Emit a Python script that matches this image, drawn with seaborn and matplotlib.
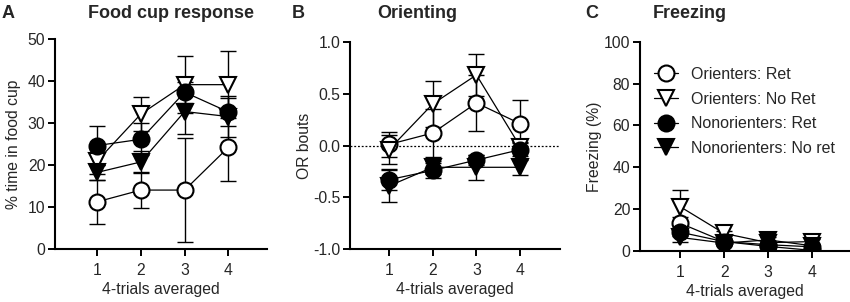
import numpy as np
import pandas as pd
import matplotlib
matplotlib.use("Agg")
import matplotlib.pyplot as plt
import seaborn as sns
from matplotlib.lines import Line2D

sns.set_style("ticks")
plt.rcParams['font.family'] = ['Liberation Sans', 'DejaVu Sans']

trials = [1, 2, 3, 4]
series_names = ["Orienters: Ret", "Orienters: No Ret", "Nonorienters: Ret", "Nonorienters: No ret"]

# Panel A: Food cup response (% time in food cup)
food_or_ret = [11.3, 14.1, 14.1, 24.3]
food_or_ret_err = [5.3, 4.3, 12.3, 8.0]
food_or_noret = [21.0, 32.2, 39.2, 39.2]
food_or_noret_err = [3.0, 4.0, 6.8, 7.9]
food_non_ret = [24.7, 26.2, 37.4, 32.7]
food_non_ret_err = [4.7, 3.8, 2.5, 3.4]
food_non_noret = [18.3, 20.8, 32.8, 31.6]
food_non_noret_err = [1.8, 2.6, 5.4, 4.9]

# Panel B: Orienting (OR bouts)
or_or_ret = [0.01, 0.12, 0.41, 0.21]
or_or_ret_err = [0.12, 0.23, 0.27, 0.23]
or_or_noret = [-0.04, 0.40, 0.68, -0.01]
or_or_noret_err = [0.14, 0.22, 0.20, 0.04]
or_non_ret = [-0.33, -0.24, -0.14, -0.04]
or_non_ret_err = [0.10, 0.07, 0.05, 0.06]
or_non_noret = [-0.39, -0.21, -0.21, -0.21]
or_non_noret_err = [0.15, 0.06, 0.12, 0.07]

# Panel C: Freezing (%)
frz_or_ret = [13.3, 4.5, 2.2, 0.3]
frz_or_ret_err = [3.0, 1.0, 0.8, 0.5]
frz_or_noret = [21.2, 8.4, 4.0, 4.5]
frz_or_noret_err = [8.0, 1.0, 1.0, 1.0]
frz_non_ret = [9.0, 4.5, 3.0, 2.0]
frz_non_ret_err = [2.0, 1.0, 1.0, 1.0]
frz_non_noret = [6.5, 3.8, 5.3, 2.5]
frz_non_noret_err = [2.0, 1.0, 1.5, 1.0]

styles = [
    dict(marker='o', markerfacecolor='white'),
    dict(marker='v', markerfacecolor='white'),
    dict(marker='o', markerfacecolor='black'),
    dict(marker='v', markerfacecolor='black'),
]
MS = {'o': 11.5, 'v': 12}
FS = 11.3

fig = plt.figure(figsize=(8.5, 3.02), dpi=100)
axA = fig.add_axes([55/850, (302-249.3)/302, 212/850, 210/302])
axB = fig.add_axes([350/850, (302-249.3)/302, 210/850, 207.6/302])
axC = fig.add_axes([640/850, (302-251)/302, 210/850, 209.3/302])

panels = [
    (axA, [food_or_ret, food_or_noret, food_non_ret, food_non_noret],
     [food_or_ret_err, food_or_noret_err, food_non_ret_err, food_non_noret_err],
     (0, 50), [0, 10, 20, 30, 40, 50], ["0", "10", "20", "30", "40", "50"], "% time in food cup", (0.04, 4.88), 5),
    (axB, [or_or_ret, or_or_noret, or_non_ret, or_non_noret],
     [or_or_ret_err, or_or_noret_err, or_non_ret_err, or_non_noret_err],
     (-1.0, 1.0), [-1.0, -0.5, 0.0, 0.5, 1.0], ["-1.0", "-0.5", "0.0", "0.5", "1.0"], "OR bouts", (0.11, 4.91), 1),
    (axC, [frz_or_ret, frz_or_noret, frz_non_ret, frz_non_noret],
     [frz_or_ret_err, frz_or_noret_err, frz_non_ret_err, frz_non_noret_err],
     (0, 100), [0, 20, 40, 60, 80, 100], ["0", "20", "40", "60", "80", "100"], "Freezing (%)", (0.09, 4.86), 1),
]

for ax, vals, errs, ylim, yt, ytl, ylab, xlim, ylpad in panels:
    if ax is axB:
        ax.axhline(0, color='k', linestyle=(0, (1.5, 1.5)), linewidth=0.9, zorder=1)
    for v, e, st, name in zip(vals, errs, styles, series_names):
        ax.errorbar(trials, v, yerr=e, fmt='none', ecolor='k', elinewidth=1.0,
                    capsize=6, capthick=1.0, zorder=2)
        df = pd.DataFrame({"trial": trials, "value": v})
        sns.lineplot(data=df, x="trial", y="value", ax=ax, color='k', linewidth=0.9,
                     marker=st['marker'], markersize=MS[st['marker']],
                     markerfacecolor=st['markerfacecolor'], markeredgecolor='k',
                     markeredgewidth=1.5, label=name, zorder=3, legend=False)
    ax.set_ylim(*ylim)
    ax.set_yticks(yt)
    ax.set_yticklabels(ytl)
    ax.set_xlim(*xlim)
    ax.set_xticks(trials)
    ax.set_xticklabels([str(t) for t in trials])
    ax.tick_params(axis='both', labelsize=FS, width=1.4, length=5, direction='out', color='k')
    ax.tick_params(axis='x', pad=5)
    ax.tick_params(axis='y', pad=2)
    ax.set_xlabel("4-trials averaged", fontsize=FS, labelpad=3)
    ax.set_ylabel(ylab, fontsize=FS, labelpad=ylpad)
    for s in ['left', 'bottom']:
        ax.spines[s].set_linewidth(1.5)
        ax.spines[s].set_color('k')
    sns.despine(ax=ax)

# legend in panel C
handles = [Line2D([0], [0], color='k', linewidth=0.9, marker=st['marker'],
                  markersize=MS[st['marker']],
                  markerfacecolor=st['markerfacecolor'], markeredgecolor='k', markeredgewidth=1.5)
           for st in styles]
axC.legend(handles, series_names, loc='upper left', bbox_to_anchor=(654/850, 1 - 67/302),
           bbox_transform=fig.transFigure, frameon=False, fontsize=11.5, handlelength=1.5,
           handletextpad=0.8, labelspacing=0.6, borderpad=0, borderaxespad=0)

# titles and panel letters
TS = 13
fig.text(88/850, 1 - 14/302, "Food cup response", fontsize=TS, fontweight='bold', va='center', ha='left')
fig.text(377/850, 1 - 14/302, "Orienting", fontsize=TS, fontweight='bold', va='center', ha='left')
fig.text(653/850, 1 - 14/302, "Freezing", fontsize=TS, fontweight='bold', va='center', ha='left')
fig.text(2/850, 1 - 14/302, "A", fontsize=TS, fontweight='bold', va='center', ha='left')
fig.text(292/850, 1 - 14/302, "B", fontsize=TS, fontweight='bold', va='center', ha='left')
fig.text(585/850, 1 - 14/302, "C", fontsize=TS, fontweight='bold', va='center', ha='left')

fig.savefig("out.png", dpi=100)
